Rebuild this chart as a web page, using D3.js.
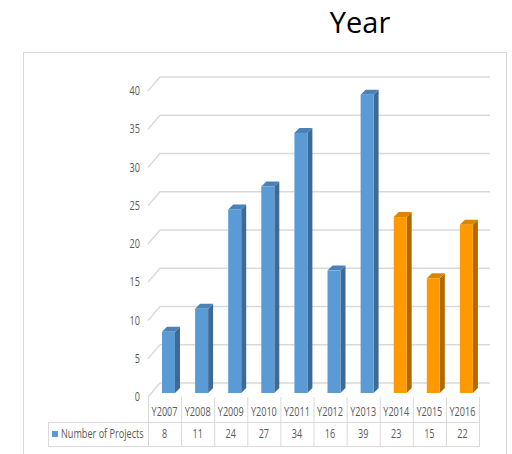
<!DOCTYPE html>
<html>
<head>
<meta charset="utf-8">
<script src="https://cdn.jsdelivr.net/npm/d3@7"></script>
<style>
body { margin: 0; background: #fff; }
text { font-family: "Open Sans", sans-serif; fill: #595959; }
</style>
</head>
<body>
<script>
let years = ["Y2007","Y2008","Y2009","Y2010","Y2011","Y2012","Y2013","Y2014","Y2015","Y2016"];
let projects = [8, 11, 24, 27, 34, 16, 39, 23, 15, 22];
let highlighted = ["Y2014","Y2015","Y2016"];
let yTicks = [0, 5, 10, 15, 20, 25, 30, 35, 40];
let seriesName = "Number of Projects";

let width = 512, height = 454;
let svg = d3.select("body").append("svg")
  .attr("width", width)
  .attr("height", height);

// narrow text like the office font: squeeze horizontally
let narrow = (px, py) => "translate(" + px + "," + py + ") scale(0.76,1)";

// outer chart frame
svg.append("rect")
  .attr("x", 23.5).attr("y", 52.5)
  .attr("width", 483).attr("height", 420)
  .attr("fill", "none").attr("stroke", "#d9d9d9");

svg.append("text")
  .attr("x", 360).attr("y", 33)
  .attr("text-anchor", "middle")
  .style("font-size", "29px")
  .style("fill", "#000")
  .text("Year");

let x = d3.scaleBand().domain(years).range([148, 479]);
let y = d3.scaleLinear().domain([0, 40]).range([383, 77]);

// gridlines with the slanted side wall part
let grid = svg.append("g");
yTicks.forEach(function(t) {
  grid.append("path")
    .attr("d", "M148," + (y(t) + 14) + "L160," + y(t) + "L490," + y(t))
    .attr("fill", "none")
    .attr("stroke", "#d9d9d9")
    .attr("stroke-width", 1.3);
  grid.append("text")
    .attr("transform", narrow(140, y(t) + 14))
    .attr("dy", "0.35em")
    .attr("text-anchor", "end")
    .style("font-size", "12px")
    .text(t);
});

let bw = 13, dep = 5, base = 393;
let colors = {
  blue: {front: "#5b9bd5", top: "#4a82b8", side: "#3e6b96"},
  orange: {front: "#ff9900", top: "#de8500", side: "#b06a00"}
};

let bar = svg.selectAll("g.bar")
  .data(years)
  .enter()
  .append("g")
  .attr("class", "bar");

bar.each(function(d, i) {
  let c = highlighted.indexOf(d) >= 0 ? colors.orange : colors.blue;
  let x0 = x(d) + 14;
  let yt = y(projects[i]) + 10;
  let g = d3.select(this);
  g.append("path")
    .attr("d", "M" + (x0 + bw) + "," + yt + "L" + (x0 + bw + dep) + "," + (yt - dep) +
      "L" + (x0 + bw + dep) + "," + (base - dep) + "L" + (x0 + bw) + "," + base + "Z")
    .attr("fill", c.side);
  g.append("path")
    .attr("d", "M" + x0 + "," + yt + "L" + (x0 + dep) + "," + (yt - dep) +
      "L" + (x0 + bw + dep) + "," + (yt - dep) + "L" + (x0 + bw) + "," + yt + "Z")
    .attr("fill", c.top);
  g.append("rect")
    .attr("x", x0).attr("y", yt)
    .attr("width", bw).attr("height", base - yt)
    .attr("fill", c.front);
});

// data table
let table = svg.append("g").attr("stroke", "#d9d9d9").attr("fill", "none");
table.append("path").attr("d", "M48,422.5H479M48,446.5H479M48.5,422V447");
years.forEach(function(d) {
  table.append("path").attr("d", "M" + (x(d) + 0.5) + ",397V447");
});
table.append("path").attr("d", "M479.5,397V447");

svg.selectAll("text.cat")
  .data(years)
  .enter()
  .append("text")
  .attr("class", "cat")
  .attr("transform", function(d) { return narrow(x(d) + x.bandwidth() / 2, 412); })
  .attr("dy", "0.35em")
  .attr("text-anchor", "middle")
  .style("font-size", "12px")
  .text(function(d) { return d; });

svg.selectAll("text.val")
  .data(projects)
  .enter()
  .append("text")
  .attr("class", "val")
  .attr("transform", function(d, i) { return narrow(x(years[i]) + x.bandwidth() / 2, 434); })
  .attr("dy", "0.35em")
  .attr("text-anchor", "middle")
  .style("font-size", "12px")
  .text(function(d) { return d; });

svg.append("rect")
  .attr("x", 52).attr("y", 431).attr("width", 6).attr("height", 6)
  .attr("fill", colors.blue.front);
svg.append("text")
  .attr("transform", narrow(61, 434))
  .attr("dy", "0.35em")
  .style("font-size", "12px")
  .text(seriesName);
</script>
</body>
</html>
